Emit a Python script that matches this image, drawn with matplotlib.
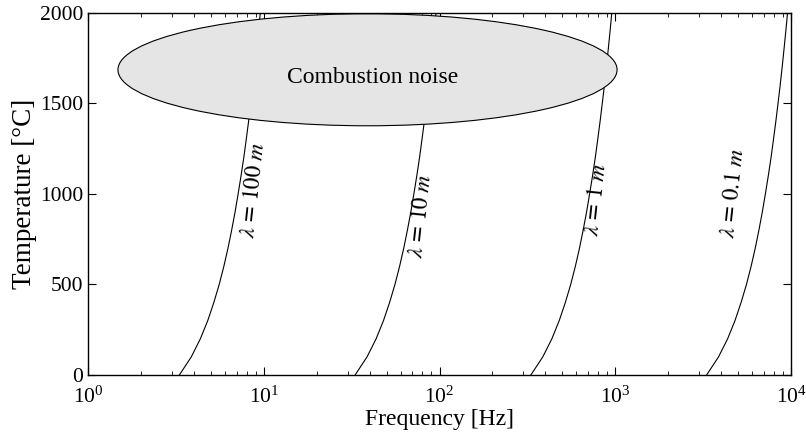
import matplotlib
matplotlib.use("Agg")
import matplotlib.pyplot as plt
from matplotlib.patches import Ellipse
import numpy as np

plt.rcParams['font.family'] = ['Liberation Serif', 'DejaVu Serif']
plt.rcParams['mathtext.fontset'] = 'stix'

# temperature [C] and speed of sound [m/s] (f * lambda)
temperature = [0, 100, 200, 300, 400, 500, 600, 700, 800, 900, 1000,
               1100, 1200, 1300, 1400, 1500, 1600, 1700, 1800, 1900, 2000]
sound_speed = [331, 387, 436, 480, 520, 558, 593, 626, 657, 687, 715,
               743, 770, 795, 820, 844, 868, 891, 913, 935, 956]
wavelengths = [100, 10, 1, 0.1]
labels = [r'$\lambda\,=\,\mathit{100\ m}$', r'$\lambda\,=\,\mathit{10\ m}$',
          r'$\lambda\,=\,\mathit{1\ m}$', r'$\lambda\,=\,\mathit{0.1\ m}$']
label_freq = [8.7, 78, 786, 4670]
label_temp = [1020, 880, 966, 1004]

fig = plt.figure(figsize=(8.06, 4.41), dpi=100)
ax = fig.add_axes([88 / 806, 1 - 375 / 441, 703 / 806, 362.5 / 441])

c = np.array(sound_speed, dtype=float)
for lam in wavelengths:
    ax.plot(c / lam, temperature, color='black', lw=0.8, zorder=1)

for txt, fx, ty in zip(labels, label_freq, label_temp):
    ax.text(fx, ty, txt, rotation=84, ha='center', va='center', fontsize=16.5)

ell = Ellipse((0.3976, 0.842), 0.710, 0.309, transform=ax.transAxes,
              facecolor='#e5e5e5', edgecolor='black', lw=0.8, zorder=2)
ax.add_patch(ell)
ax.text(0.405, 0.82, 'Combustion noise', transform=ax.transAxes,
        ha='center', va='center', fontsize=17, zorder=3)

ax.set_xscale('log')
ax.set_xlim(1, 1e4)
ax.set_ylim(0, 2000)
ax.set_yticks([0, 500, 1000, 1500, 2000])
ax.tick_params(which='both', direction='in', top=True, right=True, labelsize=15.5)
ax.tick_params(which='major', length=6)
ax.tick_params(which='minor', length=3)
ax.tick_params(axis='x', pad=8)
for s in ax.spines.values():
    s.set_linewidth(1.0)

ax.set_xlabel('Frequency [Hz]', fontsize=17, labelpad=1)
ax.set_ylabel('Temperature [°C]', fontsize=19.5, labelpad=2)

fig.savefig('out.png', dpi=100)
